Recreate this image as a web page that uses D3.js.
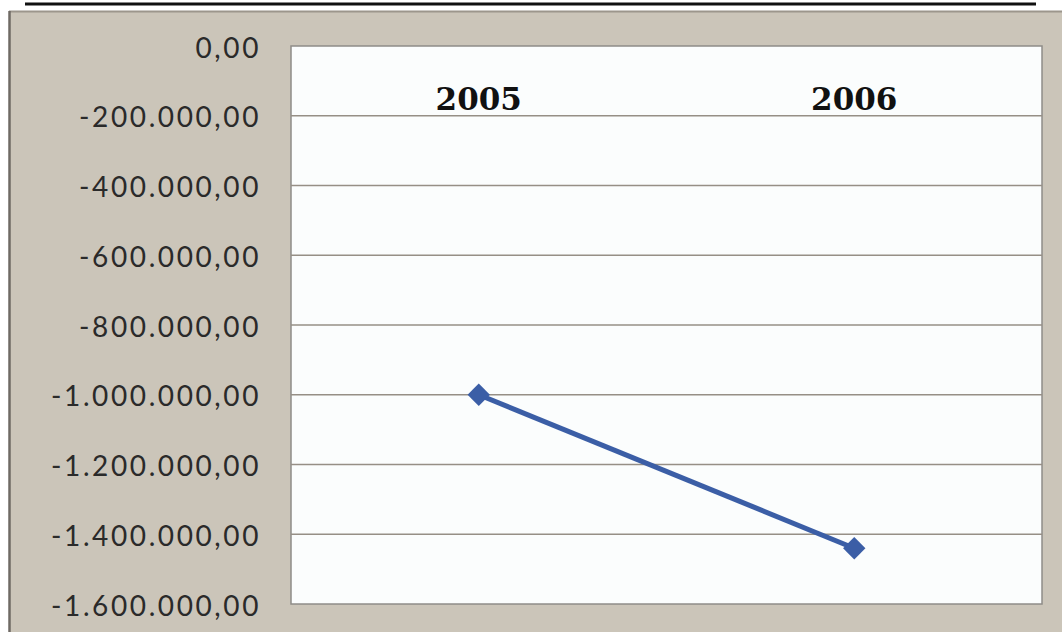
<!DOCTYPE html>
<html><head><meta charset="utf-8">
<script src="https://cdn.jsdelivr.net/npm/d3@7"></script>
<style>body{margin:0;background:#fff;}svg{display:block;}</style>
</head><body>
<svg id="c" width="1062" height="632"></svg>
<script>
const categories = ["2005", "2006"];
const values = [-1000000, -1440000];
const yTicks = [0, -200000, -400000, -600000, -800000, -1000000, -1200000, -1400000, -1600000];

const svg = d3.select("#c");
const W = 1062, H = 632;
const m = {left: 291, top: 46, right: 1042, bottom: 604};

// top underline (cut title)
svg.append("line").attr("x1", 25).attr("x2", 1036).attr("y1", 4).attr("y2", 4)
  .attr("stroke", "#111").attr("stroke-width", 3);

// frame background
svg.append("rect").attr("x", 9).attr("y", 11).attr("width", W - 9).attr("height", H - 11)
  .attr("fill", "#cbc5b9");
svg.append("line").attr("x1", 9).attr("x2", W).attr("y1", 11.5).attr("y2", 11.5)
  .attr("stroke", "#9c968c").attr("stroke-width", 2);
svg.append("line").attr("x1", 9.5).attr("x2", 9.5).attr("y1", 11).attr("y2", H)
  .attr("stroke", "#6f6a64").attr("stroke-width", 2.5);

const x = d3.scalePoint().domain(categories).range([m.left, m.right]).padding(0.5);
const y = d3.scaleLinear().domain([-1600000, 0]).range([m.bottom, m.top]);

// plot area
svg.append("rect").attr("x", m.left).attr("y", m.top)
  .attr("width", m.right - m.left).attr("height", m.bottom - m.top)
  .attr("fill", "#fbfdfd").attr("stroke", "#8f8c88").attr("stroke-width", 1.5);

const fmt = v => {
  const s = d3.format(",.2f")(v);
  return s.replace(/,/g, "#").replace(".", ",").replace(/#/g, ".").replace("−", "-");
};
const yAxis = d3.axisLeft(y).tickValues(yTicks).tickSize(0).tickFormat(fmt);
svg.append("g").selectAll("line").data(yTicks.slice(1, -1)).join("line")
  .attr("x1", m.left).attr("x2", m.right)
  .attr("y1", d => y(d)).attr("y2", d => y(d))
  .attr("stroke", "#968f86").attr("stroke-width", 1.5);

const ga = svg.append("g").attr("transform", `translate(261,0)`).call(yAxis);
ga.select(".domain").remove();
ga.selectAll("text").attr("font-family", "Lato").attr("font-size", 28)
  .attr("letter-spacing", "2.6px")
  .attr("fill", "#2a2a2a").attr("dy", "0.4em").attr("x", 0);

// category labels at top
svg.append("g").selectAll("text").data(categories).join("text")
  .attr("x", d => x(d)).attr("y", 110).attr("text-anchor", "middle")
  .attr("font-family", "DejaVu Serif").attr("font-weight", "bold").attr("font-size", 31)
  .attr("fill", "#111").text(d => d);

// line
const pts = categories.map((c, i) => [x(c), y(values[i])]);
svg.append("path").attr("d", d3.line()(pts)).attr("fill", "none")
  .attr("stroke", "#3b5ea6").attr("stroke-width", 5);
svg.append("g").selectAll("path").data(pts).join("path")
  .attr("transform", d => `translate(${d[0]},${d[1]})`)
  .attr("d", d3.symbol(d3.symbolDiamond2, 320)())
  .attr("fill", "#3b5ea6");
</script>
</body></html>
